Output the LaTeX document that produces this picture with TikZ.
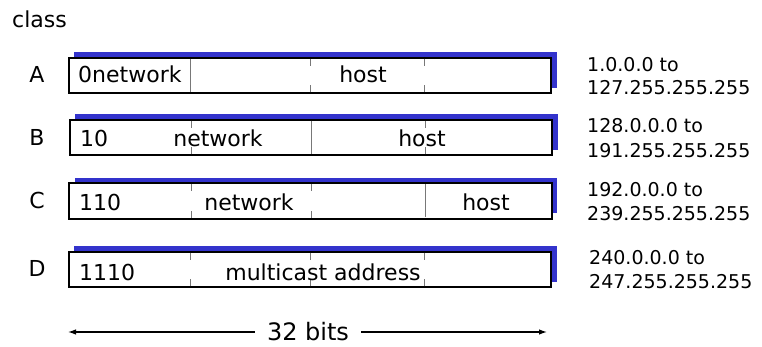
\documentclass[tikz,border=0pt]{standalone}
\usepackage{fontspec}
\setmainfont{DejaVu Sans}
\usetikzlibrary{arrows.meta}

\definecolor{shadowblue}{RGB}{51,51,204}
\definecolor{divgray}{RGB}{120,120,120}

\tikzset{
  addr/.style={minimum width=482pt, minimum height=35pt, inner sep=0pt},
  boxline/.style={draw=black, line width=1.8pt, fill=white},
  divider/.style={draw=divgray, line width=1.1pt},
  classlbl/.style={font=\fontsize{22}{26}\selectfont, inner sep=0pt},
  fieldtxt/.style={font=\fontsize{22}{25}\selectfont, inner sep=0pt},
  rangetxt/.style={font=\fontsize{19}{22}\selectfont, inner sep=0pt, anchor=base west},
  span/.style={line width=1.2pt, -{Latex[length=8pt,width=5.5pt]}},
}

\begin{document}
\begin{tikzpicture}[x=1pt, y=-1pt]
  \useasboundingbox (0,0) rectangle (762,347);

  % column heading and class letters
  \node[classlbl, anchor=base west] (classhd) at (12,28) {class};
  \node[classlbl] (lblA) at (37,74) {A};
  \node[classlbl] (lblB) at (37,137) {B};
  \node[classlbl] (lblC) at (37,200) {C};
  \node[classlbl] (lblD) at (37,268) {D};

  % 32-bit address boxes with a blue offset backing
  \node[addr] (rowA) at (310,75.5) {};
  \node[addr] (rowB) at (311,137.5) {};
  \node[addr] (rowC) at (310.5,201) {};
  \node[addr] (rowD) at (310,269.5) {};
  \foreach \r in {rowA,rowB,rowC,rowD} {
    \fill[shadowblue] ([shift={(5.5pt,5.5pt)}]\r.south west)
      rectangle ([shift={(5.5pt,5.5pt)}]\r.north east);
    \draw[boxline] (\r.south west) rectangle (\r.north east);
  }

  % byte dividers: full line at a field boundary, short ticks elsewhere
  \foreach \r/\full in {rowA/1, rowB/2, rowC/3, rowD/0} {
    \foreach \dx [count=\i] in {122,242,356} {
      \ifnum\i=\full
        \draw[divider] (\r.north west) ++(\dx pt,-0.9pt) -- ++(0,-33.2pt);
      \else
        \draw[divider] (\r.north west) ++(\dx pt,-0.9pt) -- ++(0,-7pt);
        \draw[divider] (\r.south west) ++(\dx pt,0.9pt) -- ++(0,7pt);
      \fi
    }
  }

  % field labels
  \node[fieldtxt, anchor=base west] (aNet)  at (78,83)   {0network};
  \node[fieldtxt, anchor=base]      (aHost) at (363,83)  {host};
  \node[fieldtxt, anchor=base west] (bPre)  at (80,147)  {10};
  \node[fieldtxt, anchor=base]      (bNet)  at (218,147) {network};
  \node[fieldtxt, anchor=base]      (bHost) at (422,147) {host};
  \node[fieldtxt, anchor=base west] (cPre)  at (79,211)  {110};
  \node[fieldtxt, anchor=base]      (cNet)  at (249,211) {network};
  \node[fieldtxt, anchor=base]      (cHost) at (486,211) {host};
  \node[fieldtxt, anchor=base west] (dPre)  at (79,280)  {1110};
  \node[fieldtxt, anchor=base]      (dMc)   at (323,280) {multicast address};

  % address ranges
  \node[rangetxt] (rA1) at (587,72)  {1.0.0.0 to};
  \node[rangetxt] (rA2) at (587,95)  {127.255.255.255};
  \node[rangetxt] (rB1) at (587,133) {128.0.0.0 to};
  \node[rangetxt] (rB2) at (587,158) {191.255.255.255};
  \node[rangetxt] (rC1) at (587,197) {192.0.0.0 to};
  \node[rangetxt] (rC2) at (587,221) {239.255.255.255};
  \node[rangetxt] (rD1) at (589,264) {240.0.0.0 to};
  \node[rangetxt] (rD2) at (589,288) {247.255.255.255};

  % width indicator
  \node[font=\fontsize{24}{28}\selectfont, inner ysep=0pt, inner xsep=12pt]
    (bits) at (308,332) {32 bits};
  \coordinate (arrL) at (68,332);
  \coordinate (arrR) at (547,332);
  \draw[span] (bits.west) -- (arrL);
  \draw[span] (bits.east) -- (arrR);
\end{tikzpicture}
\end{document}
